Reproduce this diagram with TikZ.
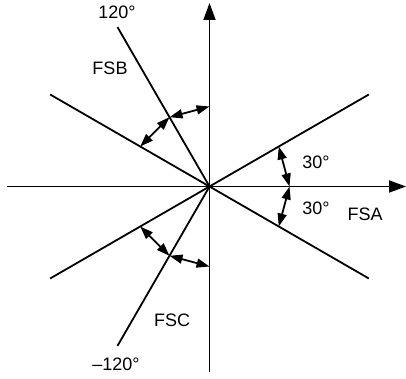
\documentclass[tikz,border=0pt]{standalone}
\usepackage{fontspec}
\setmainfont{Liberation Sans}
\usetikzlibrary{arrows.meta}
\begin{document}
\begin{tikzpicture}[x=1pt,y=1pt,
  ln/.style={line width=1.8pt},
  axis/.style={line width=1.8pt,-{Triangle[length=17pt,width=12pt]}},
  dbl/.style={line width=1.8pt,{Triangle[length=13pt,width=9pt]}-{Triangle[length=13pt,width=9pt]}},
  lbl/.style={inner sep=0pt,font=\fontsize{18}{20}\selectfont}]
\useasboundingbox (0,0) rectangle (406,379);
\coordinate (O) at (209.5,192.5);
\coordinate (Ytop) at (209.5,376);
\coordinate (Ybot) at (209.5,7);
\coordinate (Xl) at (7,192.5);
\coordinate (Xr) at (406,192.5);
\foreach \a/\n in {30/A30,150/A150,210/A210,330/Am30,120/A120,240/Am120}
  \coordinate (\n) at ([shift={(O)}]\a:184);
\foreach \a/\n in {0/P0,30/P30,330/Pm30,90/P90,120/P120,150/P150,270/Pm90,240/Pm120,210/Pm150}
  \coordinate (\n) at ([shift={(O)}]\a:80);
\draw[axis] (Ybot) -- (Ytop);
\draw[axis] (Xl) -- (Xr);
\draw[ln] (A150) -- (Am30);
\draw[ln] (A210) -- (A30);
\draw[ln] (A120) -- (O) -- (Am120);
\draw[dbl] (P0) -- (P30);
\draw[dbl] (P0) -- (Pm30);
\draw[dbl] (P90) -- (P120);
\draw[dbl] (P120) -- (P150);
\draw[dbl] (Pm90) -- (Pm120);
\draw[dbl] (Pm120) -- (Pm150);
\node[lbl] (t120) at (117,367) {120°};
\node[lbl] (fsb) at (110,311) {FSB};
\node[lbl] (d1) at (316,217) {30°};
\node[lbl] (d2) at (316,171) {30°};
\node[lbl] (fsa) at (365,165) {FSA};
\node[lbl] (fsc) at (172,59) {FSC};
\node[lbl] (tm120) at (116,15) {–120°};
\end{tikzpicture}
\end{document}
